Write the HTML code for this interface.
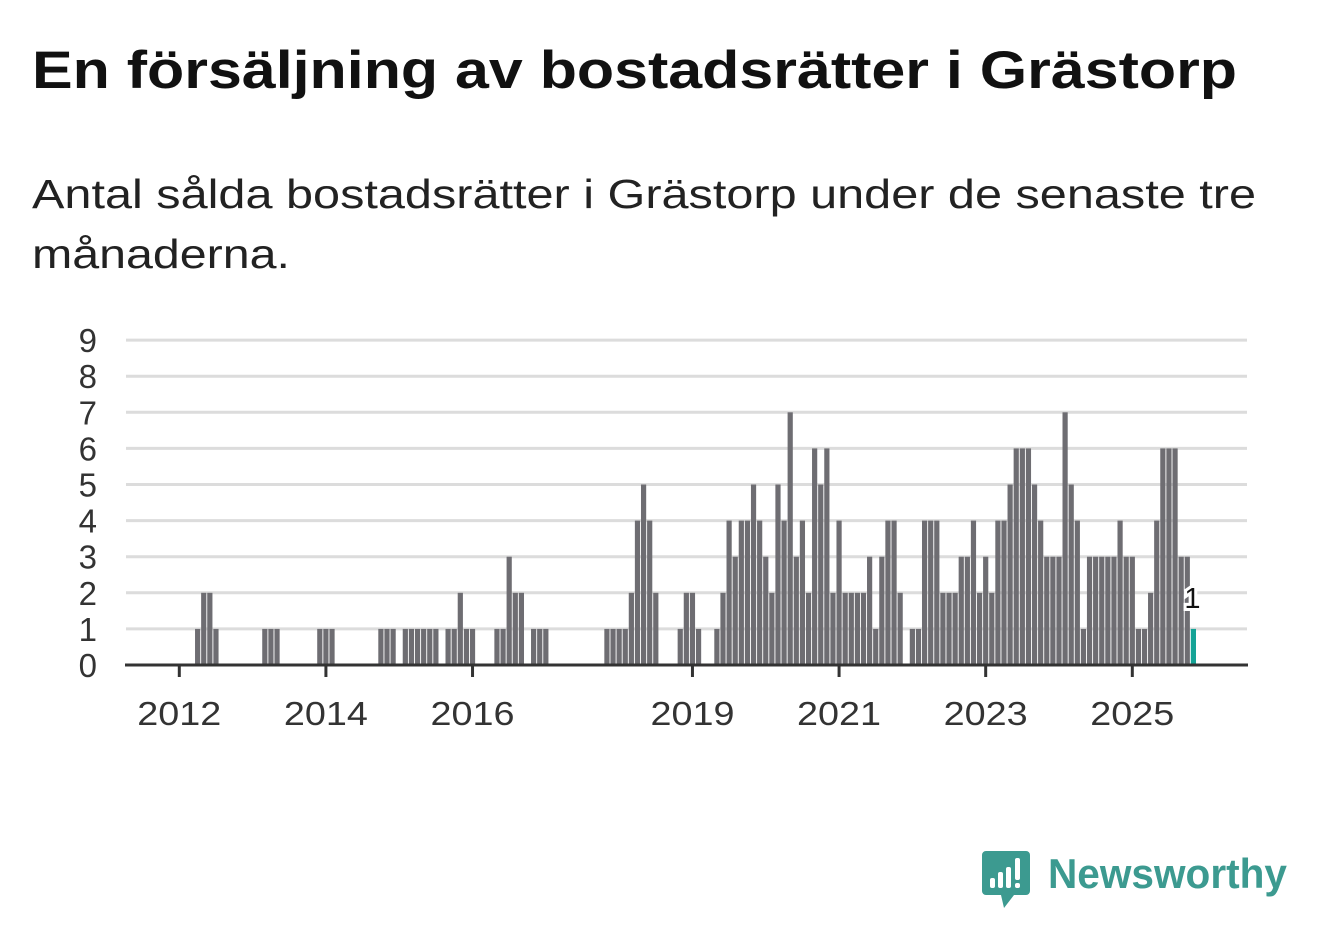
<!DOCTYPE html>
<html><head><meta charset="utf-8"><style>
html,body{margin:0;padding:0;background:#fff;width:1322px;height:939px;overflow:hidden;font-family:"Liberation Sans",sans-serif;}
svg text{font-family:"Liberation Sans",sans-serif;}
</style></head><body>
<svg id="chart" width="1322" height="939" viewBox="0 0 1322 939" xmlns="http://www.w3.org/2000/svg">
<text x="32" y="88" font-size="53" font-weight="bold" fill="#111" textLength="1205" lengthAdjust="spacingAndGlyphs">En försäljning av bostadsrätter i Grästorp</text>
<text x="32" y="208" font-size="41" fill="#222" textLength="1224" lengthAdjust="spacingAndGlyphs">Antal sålda bostadsrätter i Grästorp under de senaste tre</text>
<text x="32" y="268" font-size="41" fill="#222" textLength="258" lengthAdjust="spacingAndGlyphs">månaderna.</text>
<g id="grid"></g>
<g id="bars"></g>
<g id="axes"></g>
<g>
<path d="M986 851 h40 a4 4 0 0 1 4 4 v36 a4 4 0 0 1 -4 4 h-12 l-10 13 l-3 -13 h-15 a4 4 0 0 1 -4 -4 v-36 a4 4 0 0 1 4 -4z" fill="#3c9a90"/>
<rect x="990" y="878" width="5" height="10" rx="2" fill="#fff"/>
<rect x="998" y="872" width="5" height="16" rx="2" fill="#fff"/>
<rect x="1006" y="867" width="5" height="21" rx="2" fill="#fff"/>
<rect x="1015" y="858" width="5" height="22" rx="2" fill="#fff"/>
<rect x="1015" y="883" width="5" height="5" rx="2" fill="#fff"/>
<text x="1048" y="888" font-size="42" font-weight="bold" fill="#3c9a90" textLength="239" lengthAdjust="spacingAndGlyphs">Newsworthy</text>
</g>
</svg>
<script>
const startYear = 2012;
const values = [0,0,0,1,2,2,1,0,0,0,0,0,0,0,1,1,1,0,0,0,0,0,0,1,1,1,0,0,0,0,0,0,0,1,1,1,0,1,1,1,1,1,1,0,1,1,2,1,1,0,0,0,1,1,3,2,2,0,1,1,1,0,0,0,0,0,0,0,0,0,1,1,1,1,2,4,5,4,2,0,0,0,1,2,2,1,0,0,1,2,4,3,4,4,5,4,3,2,5,4,7,3,4,2,6,5,6,2,4,2,2,2,2,3,1,3,4,4,2,0,1,1,4,4,4,2,2,2,3,3,4,2,3,2,4,4,5,6,6,6,5,4,3,3,3,7,5,4,1,3,3,3,3,3,4,3,3,1,1,2,4,6,6,6,3,3,1];
const yTicks = [0,1,2,3,4,5,6,7,8,9];
const xTickYears = [2012,2014,2016,2019,2021,2023,2025];
const NS='http://www.w3.org/2000/svg';
function x(i){return 179.3 + i*6.109;}
function y(v){return 665 - v*36.1;}
function mk(tag,attrs,parent){const e=document.createElementNS(NS,tag);for(const k in attrs)e.setAttribute(k,attrs[k]);parent.appendChild(e);return e;}
const grid=document.getElementById('grid'),bars=document.getElementById('bars'),axes=document.getElementById('axes');
yTicks.forEach(t=>{
  if(t>0){const l=mk('line',{x1:126,x2:1247,y1:y(t),y2:y(t),stroke:'#dcdcdc','stroke-width':3},grid);
  
  }
  const tx=mk('text',{x:97,y:y(t)+12,'font-size':33,'text-anchor':'end',fill:'#333'},axes);
  tx.textContent=t;
  
  
});
values.forEach((v,i)=>{
  if(v<=0)return;
  const last=i===values.length-1;
  const r=mk('rect',{x:x(i)-2.6,y:y(v),width:5.2,height:665-y(v),fill:last?'#14a396':'#6e6d72'},bars);
  
  
});
const li=values.length-1;
const lab=mk('text',{x:x(li)-1,y:y(values[li])-21,'font-size':29,'text-anchor':'middle',fill:'#111',stroke:'#fff','stroke-width':6,'paint-order':'stroke'},axes);
lab.textContent=values[li];


const base=mk('line',{x1:125,x2:1248,y1:665,y2:665,stroke:'#333','stroke-width':3},axes);


xTickYears.forEach(yr=>{
  const xi=x((yr-startYear)*12);
  const tk=mk('line',{x1:xi,x2:xi,y1:665,y2:677,stroke:'#333','stroke-width':3},axes);
  
  
  const tx=mk('text',{x:xi-42,y:725,'font-size':33,fill:'#333',textLength:84,lengthAdjust:'spacingAndGlyphs'},axes);
  tx.textContent=yr;
  
  
});
</script>
</body></html>
